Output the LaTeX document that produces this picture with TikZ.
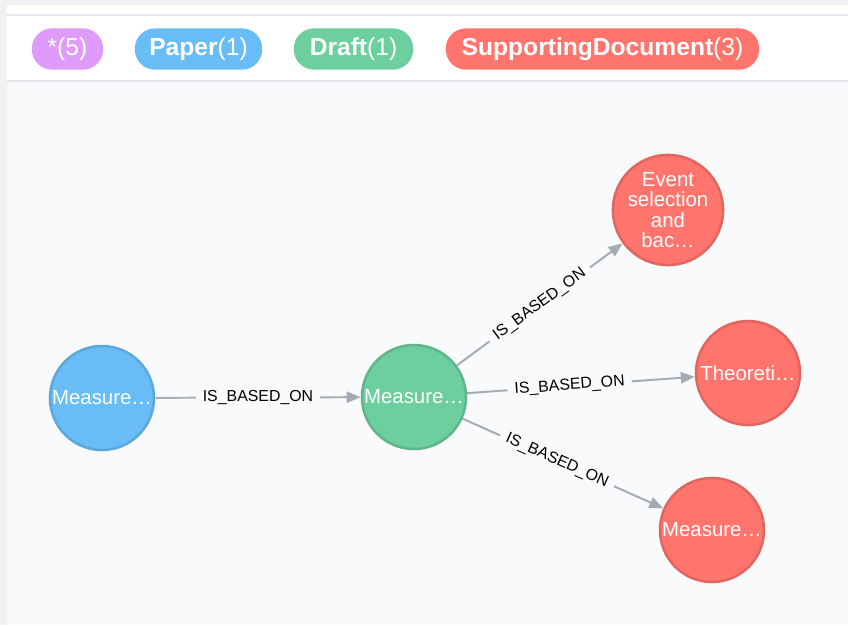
\documentclass[tikz,border=0pt]{standalone}
\usepackage{fontspec}
\setmainfont{Liberation Sans}
\usetikzlibrary{arrows.meta}

\definecolor{shellgray}{HTML}{F2F2F2}
\definecolor{rulegray}{HTML}{E4E8EE}
\definecolor{canvas}{HTML}{F9FAFB}
\definecolor{allpurple}{HTML}{DE9BF9}
\definecolor{paperblue}{HTML}{68BDF6}
\definecolor{paperedge}{HTML}{5CA8DB}
\definecolor{draftgreen}{HTML}{6DCE9E}
\definecolor{draftedge}{HTML}{60B58B}
\definecolor{docred}{HTML}{FF756E}
\definecolor{docedge}{HTML}{E06760}
\definecolor{relgray}{HTML}{A5ABB6}

\begin{document}
\begin{tikzpicture}[x=0.025cm,y=-0.025cm,
    pill/.style={rounded corners=0.5cm,minimum height=1.03cm,inner sep=0pt,text=white,
      font=\fontsize{17.5}{18}\selectfont},
    gnode/.style={circle,minimum size=2.6cm,inner sep=0pt,line width=1.8pt,text=white,
      align=center,font=\fontsize{14.5}{14.6}\selectfont},
    paper/.style={gnode,fill=paperblue,draw=paperedge},
    draft/.style={gnode,fill=draftgreen,draw=draftedge},
    doc/.style={gnode,fill=docred,draw=docedge},
    rel/.style={draw=relgray,line width=1.4pt,-{Triangle[length=10pt,width=8pt]}},
    rellabel/.style={midway,sloped,fill=canvas,inner xsep=5pt,inner ysep=1pt,text=black,
      font=\fontsize{11.3}{12}\selectfont}]
  \useasboundingbox (0,0) rectangle (848,625);
  % frame and legend bar
  \fill[shellgray](0,0)rectangle(848,625);
  \fill[white](7,5)rectangle(848,81);
  \fill[canvas](7,82)rectangle(848,625);
  \draw[rulegray,line width=1.5pt](7,15)--(848,15);
  \draw[rulegray,line width=1.5pt](7,81)--(848,81);
  \node[pill,fill=allpurple,minimum width=1.78cm](lgall)at(67.5,49){*(5)};
  \node[pill,fill=paperblue,minimum width=3.18cm](lgpaper)at(198.5,49){\textbf{Paper}(1)};
  \node[pill,fill=draftgreen,minimum width=2.98cm](lgdraft)at(353.5,49){\textbf{Draft}(1)};
  \node[pill,fill=docred,minimum width=7.83cm](lgdoc)at(602.5,49){\textbf{SupportingDocument}(3)};
  % graph
  \node[paper](paper)at(102,398){Measure…};
  \node[draft](draft)at(414,397){Measure…};
  \node[doc](event)at(668,210){Event\\selection\\and\\bac…};
  \node[doc](theory)at(748,373){Theoreti…};
  \node[doc](measure)at(712,530){Measure…};
  \draw[rel](paper)--node[rellabel]{IS\_BASED\_ON}(draft);
  \draw[rel](draft)--node[rellabel]{IS\_BASED\_ON}(event);
  \draw[rel](draft)--node[rellabel,pos=0.45]{IS\_BASED\_ON}(theory);
  \draw[rel](draft)--node[rellabel,pos=0.47]{IS\_BASED\_ON}(measure);
\end{tikzpicture}
\end{document}
